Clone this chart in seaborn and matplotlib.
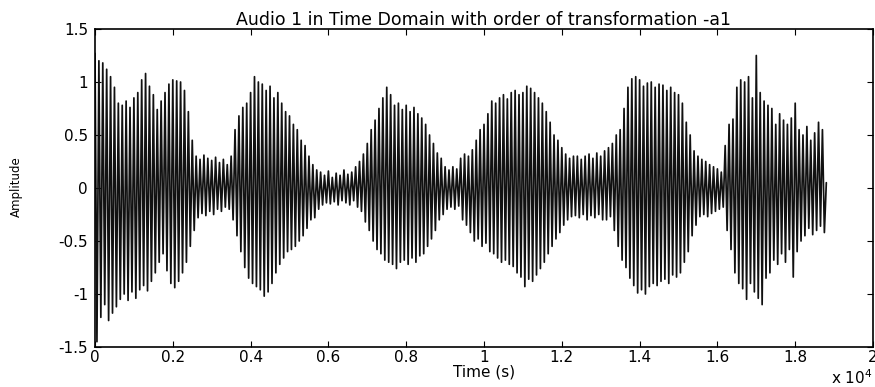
import numpy as np
import pandas as pd
import matplotlib
matplotlib.use("Agg")
import matplotlib.pyplot as plt
import seaborn as sns

# Peak amplitudes, one upper and one lower peak per 100 samples
upper = [1.27, 1.20, 1.18, 1.12, 1.05, 0.95, 0.80, 0.78, 0.82, 0.76,
         0.85, 0.90, 1.02, 1.08, 0.96, 0.88, 0.74, 0.82, 0.90, 0.98,
         1.02, 1.01, 1.00, 0.92, 0.72, 0.45, 0.30, 0.27, 0.31, 0.28,
         0.26, 0.29, 0.24, 0.27, 0.22, 0.30, 0.55, 0.68, 0.76, 0.80,
         0.90, 1.05, 1.00, 0.98, 0.92, 0.96, 0.85, 0.90, 0.80, 0.72,
         0.68, 0.60, 0.55, 0.45, 0.40, 0.30, 0.22, 0.17, 0.15, 0.12,
         0.16, 0.10, 0.14, 0.12, 0.17, 0.13, 0.15, 0.20, 0.25, 0.32,
         0.42, 0.55, 0.64, 0.75, 0.85, 0.95, 0.88, 0.78, 0.80, 0.74,
         0.78, 0.72, 0.76, 0.70, 0.66, 0.60, 0.50, 0.42, 0.33, 0.28,
         0.20, 0.17, 0.20, 0.18, 0.28, 0.32, 0.30, 0.36, 0.45, 0.55,
         0.60, 0.70, 0.82, 0.80, 0.85, 0.88, 0.84, 0.90, 0.92, 0.88,
         0.90, 0.96, 0.94, 0.90, 0.85, 0.80, 0.72, 0.62, 0.50, 0.45,
         0.38, 0.32, 0.28, 0.30, 0.30, 0.27, 0.30, 0.32, 0.28, 0.33,
         0.30, 0.35, 0.38, 0.42, 0.50, 0.55, 0.75, 0.95, 1.03, 1.05,
         1.02, 0.96, 0.99, 1.00, 0.95, 0.98, 0.97, 0.92, 0.95, 0.90,
         0.88, 0.80, 0.62, 0.50, 0.35, 0.30, 0.27, 0.25, 0.22, 0.20,
         0.18, 0.15, 0.40, 0.60, 0.65, 0.95, 1.02, 1.00, 1.05, 0.85,
         1.25, 0.90, 0.82, 0.78, 0.75, 0.60, 0.70, 0.64, 0.60, 0.66,
         0.80, 0.55, 0.50, 0.58, 0.45, 0.52, 0.62, 0.55]
lower = [-1.45, -1.22, -1.10, -1.25, -1.18, -1.12, -1.05, -1.00, -1.06, -0.98,
         -1.04, -0.96, -0.92, -0.97, -0.88, -0.80, -0.70, -0.62, -0.78, -0.90,
         -0.94, -0.88, -0.80, -0.70, -0.55, -0.40, -0.28, -0.24, -0.26, -0.22,
         -0.25, -0.20, -0.22, -0.18, -0.20, -0.30, -0.45, -0.60, -0.75, -0.85,
         -0.90, -0.93, -0.96, -1.02, -0.98, -0.90, -0.80, -0.72, -0.66, -0.60,
         -0.58, -0.55, -0.50, -0.45, -0.38, -0.30, -0.28, -0.20, -0.16, -0.14,
         -0.15, -0.13, -0.16, -0.12, -0.14, -0.16, -0.12, -0.18, -0.22, -0.32,
         -0.40, -0.50, -0.58, -0.62, -0.68, -0.70, -0.72, -0.76, -0.70, -0.68,
         -0.72, -0.66, -0.70, -0.64, -0.62, -0.55, -0.48, -0.40, -0.30, -0.25,
         -0.20, -0.18, -0.20, -0.17, -0.30, -0.35, -0.42, -0.50, -0.48, -0.55,
         -0.52, -0.60, -0.62, -0.66, -0.70, -0.68, -0.72, -0.74, -0.80, -0.84,
         -0.93, -0.86, -0.88, -0.82, -0.76, -0.70, -0.62, -0.55, -0.48, -0.42,
         -0.35, -0.30, -0.27, -0.26, -0.28, -0.25, -0.30, -0.26, -0.28, -0.25,
         -0.30, -0.30, -0.27, -0.40, -0.55, -0.68, -0.75, -0.85, -0.92, -0.99,
         -0.96, -1.00, -0.93, -0.90, -0.92, -0.88, -0.86, -0.90, -0.82, -0.84,
         -0.80, -0.70, -0.60, -0.45, -0.35, -0.27, -0.25, -0.27, -0.24, -0.22,
         -0.20, -0.18, -0.40, -0.58, -0.80, -0.90, -0.95, -1.05, -0.90, -0.98,
         -1.04, -1.10, -0.85, -0.80, -0.68, -0.72, -0.62, -0.70, -0.58, -0.84,
         -0.60, -0.50, -0.45, -0.38, -0.44, -0.40, -0.36, -0.42]
last_value = 0.05

xtick_labels = ['0', '0.2', '0.4', '0.6', '0.8', '1', '1.2', '1.4', '1.6', '1.8', '2']
ytick_values = [-1.5, -1, -0.5, 0, 0.5, 1, 1.5]
ytick_labels = ['-1.5', '-1', '-0.5', '0', '0.5', '1', '1.5']

# interleave upper and lower peaks into one sample sequence
step = 100
samples, amps = [], []
for i, (u, l) in enumerate(zip(upper, lower)):
    samples += [i * step, i * step + step // 2]
    amps += [u, l]
samples.append(len(upper) * step)
amps.append(last_value)
df = pd.DataFrame({"sample": samples, "amp": amps})

sns.set_style("white")
plt.rcParams['font.family'] = ['DejaVu Sans']
plt.rcParams['text.color'] = 'black'
plt.rcParams['axes.labelcolor'] = 'black'
plt.rcParams['xtick.color'] = 'black'
plt.rcParams['ytick.color'] = 'black'

fig = plt.figure(figsize=(8.75, 3.87), dpi=100)
ax = fig.add_axes([95 / 875, 1 - 347 / 387, 778 / 875, 318 / 387])
sns.lineplot(data=df, x="sample", y="amp", color="#111111", linewidth=1.25, ax=ax)

ax.set_xlim(0, 20000)
ax.set_ylim(-1.5, 1.5)
ax.set_xticks(np.arange(0, 20001, 2000))
ax.set_xticklabels(xtick_labels, fontsize=11)
ax.set_yticks(ytick_values)
ax.set_yticklabels(ytick_labels, fontsize=11)
ax.tick_params(axis='y', pad=5)
ax.tick_params(axis='x', pad=2)
ax.tick_params(direction='in', length=4, width=0.8, top=True, right=True,
               bottom=True, left=True, colors='black')
for s in ax.spines.values():
    s.set_color('black')
    s.set_linewidth(1.2)

ax.set_title("Audio 1 in Time Domain with order of transformation -a1",
             fontsize=12.5, pad=3, color='black')
ax.set_xlabel("Time (s)", fontsize=11, labelpad=0)
ax.set_ylabel("")
fig.text(16 / 875, 1 - 187 / 387, "Amplitude", rotation=90, ha='center', va='center', fontsize=8.5)
fig.text(873 / 875, 1 - 384 / 387, r"x 10$^4$", ha='right', va='baseline', fontsize=11)

fig.savefig("out.png", dpi=100)
